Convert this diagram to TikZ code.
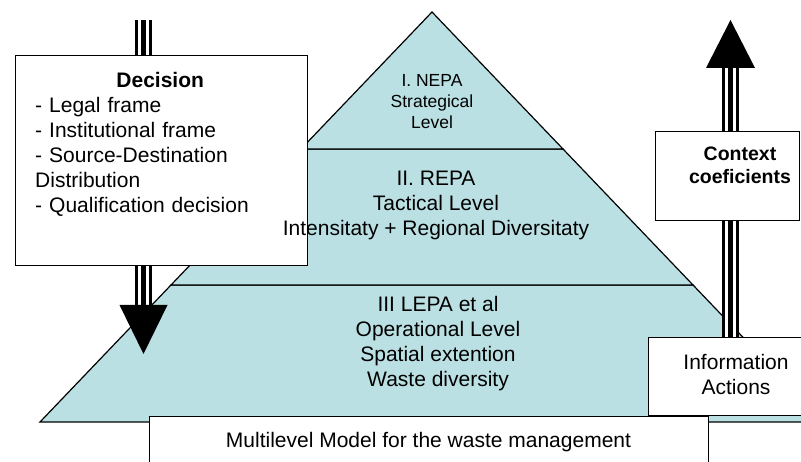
\documentclass[tikz,border=0pt]{standalone}
\usepackage{fontspec}
\setmainfont{Liberation Sans}
\usetikzlibrary{calc,positioning}
\definecolor{tierblue}{RGB}{187,224,227}
\tikzset{
  tier/.style={draw, fill=tierblue, line width=1.2pt},
  panel/.style={draw, fill=white, line width=1.3pt, inner sep=0pt},
  words/.style={align=center, inner sep=0pt, font=\bigtext},
  shaft/.style={draw=white, line width=11pt,
    preaction={draw=black, line width=17pt},
    postaction={draw=black, line width=4.5pt}}
}
\newcommand{\bigtext}{\fontsize{21pt}{25pt}\selectfont}

\begin{document}
\begin{tikzpicture}[x=1pt, y=-1pt]
  \useasboundingbox (0,0) rectangle (801,462);
  \clip (0,0) rectangle (801,462);

  % pyramid, three levels
  \coordinate (apex) at (432,12);
  \coordinate (t1l) at (301,149); \coordinate (t1r) at (563,149);
  \coordinate (t2l) at (171,285); \coordinate (t2r) at (693,285);
  \coordinate (t3l) at (40,422);  \coordinate (t3r) at (824,422);
  \draw[tier] (t2l) -- (t2r) -- (t3r) -- (t3l) -- cycle;
  \draw[tier] (t1l) -- (t1r) -- (t2r) -- (t2l) -- cycle;
  \draw[tier] (apex) -- (t1r) -- (t1l) -- cycle;

  % decision arrow, downwards
  \coordinate (down top) at (143.5,20);
  \coordinate (down tip) at (143.5,354);
  \draw[shaft] (down top) -- ($(down tip)+(0,-48)$);
  \fill (down tip) -- ++(-24,-49) -- ++(48,0) -- cycle;

  \node[panel, minimum width=292pt, minimum height=210pt, anchor=north west]
    (decision) at (15,55) {};
  \node[words, align=left, text width=250pt, anchor=north west,
    below right=17pt and 20pt of decision.north west] (decisiontext)
    {\makebox[\linewidth]{\textbf{Decision}}\\
     - Legal frame\\
     - Institutional frame\\
     - Source-Destination\\
     Distribution\\
     - Qualification decision};

  % context arrow, upwards
  \node[panel, minimum width=176pt, minimum height=78pt, anchor=north west]
    (info) at (648,337) {};
  \node[words] (infotext) at (736,374.5) {Information\\Actions};

  \coordinate (up tip) at (730.5,20);
  \draw[shaft] ($(up tip)+(0,47)$) -- (info.north -| up tip);
  \fill (up tip) -- ++(-24.5,48) -- ++(49,0) -- cycle;

  \node[panel, minimum width=144pt, minimum height=89pt, anchor=north west]
    (context) at (655,131) {};
  \node[words, font=\fontsize{19.5pt}{23pt}\selectfont\bfseries]
    (contexttext) at (740,165.5) {Context\\coeficients};

  % model caption
  \node[panel, minimum width=559pt, minimum height=60pt, anchor=north west]
    (model) at (149,416) {};
  \node[words] (modeltext) at (428.5,442)
    {Multilevel Model for the waste management};

  % level texts on top
  \node[words, font=\fontsize{17.5pt}{21pt}\selectfont] (nepa) at (432,102)
    {I. NEPA\\Strategical\\Level};
  \node[words] (repa) at (436,205)
    {II. REPA\\Tactical Level\\Intensitaty + Regional Diversitaty};
  \node[words] (lepa) at (438,344)
    {III LEPA et al\\Operational Level\\Spatial extention\\Waste diversity};
\end{tikzpicture}
\end{document}
